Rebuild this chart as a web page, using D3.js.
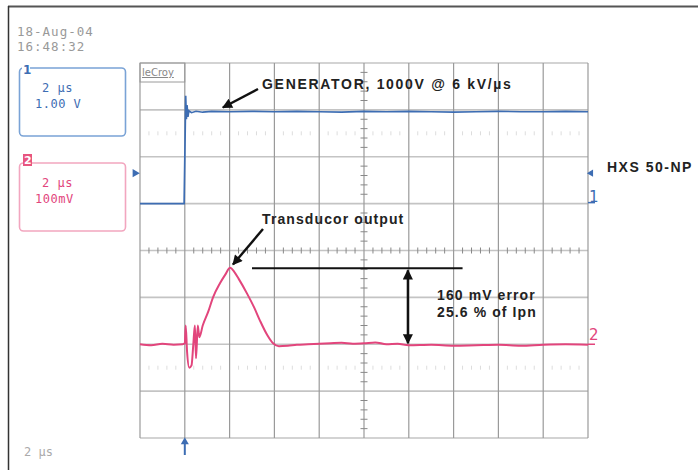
<!DOCTYPE html>
<html><head><meta charset="utf-8">
<script src="https://cdn.jsdelivr.net/npm/d3@7/dist/d3.min.js"></script>
<style>body{margin:0;background:#fff}svg{display:block}</style>
</head><body>
<script>
// ---- data ----
const timeTicks = [-10,-8,-6,-4,-2,0,2,4,6,8,10];        // µs, 2 µs/div
const divTicks = [-4,-3,-2,-1,0,1,2,3,4];                 // vertical divisions
const ch1T = [-10,-8.03,-7.99,-7.96,-7.93,-7.9,-7.86,-7.82,-7.7,-7.5,-7.2,-6.8,-6,-5,-4,-3,-2,-1,0,1,2,3,4,5,6,7,8,9,10];
const ch1V = [1.0,1.0,2.3,3.3,2.8,3.1,2.85,2.98,2.94,2.97,2.95,2.97,2.96,2.97,2.96,2.97,2.96,2.95,2.97,2.96,2.97,2.96,2.95,2.96,2.97,2.96,2.96,2.97,2.96];
const ch2T = [-10,-9.5,-9,-8.5,-8.1,-8.0,-7.96,-7.9,-7.8,-7.7,-7.62,-7.55,-7.5,-7.42,-7.35,-7.2,-6.95,-6.74,-6.43,-6.2,-5.98,-5.8,-5.6,-5.22,-4.9,-4.64,-4.3,-4.06,-3.8,-3.4,-3,-2.5,-2,-1.5,-1,-0.5,0,0.5,1,1.5,2,3,4,5,6,7,8,9,10];
const ch2mV = [-200,-202,-199,-201,-200,-198,-160,-215,-250,-245,-200,-160,-230,-160,-185,-160,-130,-100,-70,-52,-37,-45,-60,-92,-122,-150,-182,-198,-204,-203,-201,-200,-199,-198,-197,-199,-198,-196,-200,-199,-202,-201,-203,-202,-201,-203,-201,-200,-201];
const ch1Label = ["2 µs","1.00 V"];
const ch2Label = ["2 µs","100mV"];
const dateText = ["18-Aug-04","16:48:32"];
const timebaseText = "2 µs";
const errorLevels = [-38,-200];   // mV : peak level and baseline
const notes = {gen:"GENERATOR, 1000V @ 6 kV/µs", trans:"Transducor output", err1:"160 mV error", err2:"25.6 % of Ipn", model:"HXS 50-NP"};

// ---- setup ----
const W=698,H=470;
const svg=d3.select("body").append("svg").attr("width",W).attr("height",H);
const x=d3.scaleLinear().domain([-10,10]).range([140,588]);
const yd=d3.scaleLinear().domain([-4,4]).range([438,63]);
const y1=d3.scaleLinear().domain([-4,4]).range([438,63]);      // V, 1 V/div
const y2=d3.scaleLinear().domain([-400,400]).range([438,63]);  // mV, 100 mV/div
const BLUE="#3d6db3", PINK="#e2457c", GRID="#9a9a9a";

// frame
svg.append("line").attr("x1",8).attr("x2",W).attr("y1",6.5).attr("y2",6.5).attr("stroke","#555").attr("stroke-width",2);
svg.append("line").attr("x1",8.5).attr("x2",8.5).attr("y1",6).attr("y2",H).attr("stroke","#333").attr("stroke-width",1.5);

// grid
const g=svg.append("g");
g.selectAll(".hl").data(divTicks).join("line")
 .attr("x1",x(-10)).attr("x2",x(10)).attr("y1",d=>yd(d)).attr("y2",d=>yd(d))
 .attr("stroke","#c4c4c4").attr("stroke-width",1.6);
g.selectAll(".vl").data(timeTicks).join("line")
 .attr("x1",d=>x(d)).attr("x2",d=>x(d)).attr("y1",yd(-4)).attr("y2",yd(4))
 .attr("stroke",GRID).attr("stroke-width",1.2);
// minor ticks on centre axes
const minorT=d3.range(-10,10.01,0.4).filter(v=>Math.abs(v%2)>0.01);
const minorD=d3.range(-4,4.01,0.2).filter(v=>Math.abs((v+10)%1)>0.01 && Math.abs((v+10)%1-1)>0.01);
g.selectAll(".mt").data(minorT).join("line")
 .attr("x1",d=>x(d)).attr("x2",d=>x(d)).attr("y1",yd(0)-3).attr("y2",yd(0)+3).attr("stroke","#888").attr("stroke-width",1);
g.selectAll(".md").data(minorD).join("line")
 .attr("x1",x(0)-3.5).attr("x2",x(0)+3.5).attr("y1",d=>yd(d)).attr("y2",d=>yd(d)).attr("stroke","#888").attr("stroke-width",1);
// faint dotted rows
[2.5,-2.5].forEach(r=>{
  g.selectAll(null).data(minorT).join("line")
   .attr("x1",d=>x(d)).attr("x2",d=>x(d)).attr("y1",yd(r)-2).attr("y2",yd(r)+2).attr("stroke","#ddd").attr("stroke-width",1);
});
// leCroy tag
svg.append("rect").attr("x",x(-10)).attr("y",yd(4)).attr("width",x(-8)-x(-10)).attr("height",19).attr("fill","none").attr("stroke",GRID).attr("stroke-width",1);
svg.append("text").attr("x",x(-10)+2).attr("y",yd(4)+13).text("leCroy")
 .attr("font-family","DejaVu Sans").attr("font-size",10).attr("fill","#888").attr("text-decoration","underline");

// traces
const line1=d3.line().x((d,i)=>x(ch1T[i])).y(d=>y1(d));
svg.append("path").attr("d",line1(ch1V)).attr("fill","none").attr("stroke",BLUE).attr("stroke-width",1.7);
const line2=d3.line().x((d,i)=>x(ch2T[i])).y(d=>y2(d)).curve(d3.curveMonotoneX);
svg.append("path").attr("d",line2(ch2mV)).attr("fill","none").attr("stroke",PINK).attr("stroke-width",2);

// channel markers
svg.append("path").attr("d",d3.symbol(d3.symbolTriangle,30)()).attr("fill",BLUE)
 .attr("transform",`translate(${x(-10)-5},${y1(1.65)}) rotate(90)`);
svg.append("path").attr("d",d3.symbol(d3.symbolTriangle,22)()).attr("fill",BLUE)
 .attr("transform",`translate(${x(10)+3},${y1(1.65)}) rotate(-90)`);
svg.append("text").attr("x",x(10)+1).attr("y",y1(1.0)-2).text("1").attr("font-family","DejaVu Sans").attr("font-size",15).attr("fill",BLUE);
svg.append("line").attr("x1",x(10)).attr("x2",x(10)+7).attr("y1",y1(1.0)-1).attr("y2",y1(1.0)-1).attr("stroke",BLUE).attr("stroke-width",1.5);
svg.append("text").attr("x",x(10)+1).attr("y",y2(-200)-4).text("2").attr("font-family","DejaVu Sans").attr("font-size",15).attr("fill",PINK);
svg.append("line").attr("x1",x(10)).attr("x2",x(10)+7).attr("y1",y2(-200)).attr("y2",y2(-200)).attr("stroke",PINK).attr("stroke-width",1.5);
// trigger arrow
svg.append("line").attr("x1",x(-8)).attr("x2",x(-8)).attr("y1",yd(-4)+5).attr("y2",yd(-4)+17).attr("stroke",BLUE).attr("stroke-width",2);
svg.append("path").attr("d",d3.symbol(d3.symbolTriangle,28)()).attr("fill",BLUE).attr("transform",`translate(${x(-8)},${yd(-4)+4})`);

// left channel boxes
function chBox(y0,h,col,lite,lines){
  svg.append("rect").attr("x",19.5).attr("y",y0).attr("width",106).attr("height",h).attr("rx",4)
   .attr("fill","none").attr("stroke",lite).attr("stroke-width",1.6);
  lines.forEach((t,i)=>svg.append("text").attr("x",i?35:42).attr("y",y0+24+i*16).text(t)
   .attr("font-family","DejaVu Sans Mono").attr("font-size",12).attr("letter-spacing",0.5).attr("fill",col));
}
chBox(68,68,BLUE,"#7aa3d6",ch1Label);
svg.append("rect").attr("x",22).attr("y",63).attr("width",8).attr("height",8).attr("fill","#fff");
svg.append("text").attr("x",23).attr("y",74).text("1").attr("font-family","DejaVu Sans").attr("font-weight","bold").attr("font-size",12).attr("fill",BLUE);
chBox(163,68,PINK,"#f2a6bf",ch2Label);
svg.append("rect").attr("x",23).attr("y",154).attr("width",9).attr("height",12).attr("fill","#e8557f");
svg.append("text").attr("x",24).attr("y",164).text("2").attr("font-family","DejaVu Sans").attr("font-weight","bold").attr("font-size",11).attr("fill","#fff");

// date / timebase
dateText.forEach((t,i)=>svg.append("text").attr("x",17).attr("y",36+i*15).text(t)
 .attr("font-family","DejaVu Sans Mono").attr("font-size",12.5).attr("letter-spacing",1).attr("fill","#999"));
svg.append("text").attr("x",24).attr("y",456).text(timebaseText)
 .attr("font-family","DejaVu Sans Mono").attr("font-size",12).attr("fill","#aaa");

// annotations
const defs=svg.append("defs");
defs.append("marker").attr("id","ah").attr("viewBox","0 0 10 10").attr("refX",9).attr("refY",5)
 .attr("markerWidth",5.5).attr("markerHeight",4.2).attr("orient","auto-start-reverse").attr("markerUnits","strokeWidth")
 .append("path").attr("d","M0,0L10,5L0,10z").attr("fill","#111");
const ann=svg.append("g").attr("font-family","Liberation Sans, Arial, sans-serif").attr("font-weight","bold")
 .attr("font-size",14).attr("letter-spacing",1.1).attr("fill","#222");
ann.append("text").attr("x",262).attr("y",89).attr("letter-spacing",1.7).text(notes.gen);
ann.append("line").attr("x1",258).attr("y1",89).attr("x2",x(-6.3)).attr("y2",y1(3.05))
 .attr("stroke","#111").attr("stroke-width",2.4).attr("marker-end","url(#ah)");
ann.append("text").attr("x",262).attr("y",224).text(notes.trans);
ann.append("line").attr("x1",263).attr("y1",229).attr("x2",x(-5.85)).attr("y2",y2(-30))
 .attr("stroke","#111").attr("stroke-width",2.4).attr("marker-end","url(#ah)");
ann.append("line").attr("x1",x(-5.0)).attr("x2",x(4.4)).attr("y1",y2(errorLevels[0])).attr("y2",y2(errorLevels[0]))
 .attr("stroke","#111").attr("stroke-width",2);
ann.append("line").attr("x1",x(1.96)).attr("x2",x(1.96)).attr("y1",y2(errorLevels[0])+2).attr("y2",y2(errorLevels[1])-1)
 .attr("stroke","#111").attr("stroke-width",2.4).attr("marker-start","url(#ah)").attr("marker-end","url(#ah)");
ann.append("text").attr("x",437).attr("y",300).text(notes.err1);
ann.append("text").attr("x",437).attr("y",317).text(notes.err2);
ann.append("text").attr("x",607).attr("y",172).attr("letter-spacing",1.5).text(notes.model);
</script>
</body></html>
